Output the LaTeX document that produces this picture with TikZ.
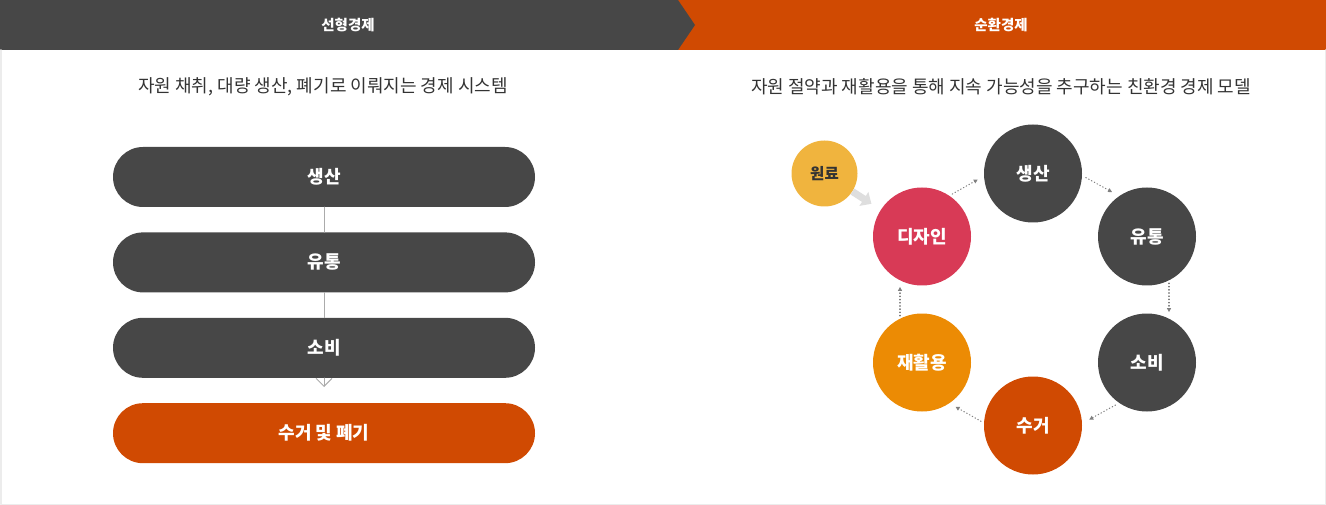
\documentclass[tikz,border=0pt]{standalone}
\usepackage{fontspec}
\setmainfont{Noto Sans CJK KR}
\usetikzlibrary{arrows.meta,calc,positioning}
\definecolor{ecodark}{RGB}{71,71,71}
\definecolor{ecoorange}{RGB}{208,74,2}
\definecolor{ecored}{RGB}{216,58,86}
\definecolor{ecoamber}{RGB}{236,139,4}
\definecolor{ecogold}{RGB}{240,180,62}
\definecolor{ecotext}{RGB}{51,51,51}
\definecolor{ecoframe}{RGB}{236,236,236}

\begin{document}
\begin{tikzpicture}[x=1pt,y=-1pt,line cap=round,line join=round,
  headtext/.style={text=white,font=\bfseries\fontsize{14.5}{16}\selectfont,inner sep=0},
  subtext/.style={text=ecotext,font=\fontsize{18}{20}\selectfont,inner sep=0},
  pill/.style={fill=ecodark,rounded corners=30pt,minimum width=422pt,minimum height=60pt,
   text=white,font=\bfseries\fontsize{18}{20}\selectfont},
  stage/.style={circle,minimum size=98pt,inner sep=0,text=white,
   font=\bfseries\fontsize{18}{20}\selectfont},
  conn/.style={draw=black!33,line width=1pt},
  flow/.style={draw=black!50,line width=1.1pt,dash pattern=on 0.6pt off 2.6pt,
   -{Triangle[length=4pt,width=4pt,fill=black!50]}},
  feed/.style={draw=black!13,line width=7pt,line cap=butt,
   -{Triangle[length=9pt,width=16pt]}}]
 \useasboundingbox (0,0) rectangle (1326,505);
 \fill[ecoorange] (678,0)--(1326,0)--(1326,50)--(678,50)--cycle;
 \fill[ecodark] (0,0)--(678,0)--(695,25)--(678,50)--(0,50)--cycle;
 \draw[ecoframe,line width=1.5pt] (0.75,50)--(0.75,504.25)--(1325.25,504.25)--(1325.25,50);
 \node[headtext] (linhead) at (348,25) {선형경제};
 \node[headtext] (circhead) at (1001,25) {순환경제};
 \node[subtext] (linsub) at (323,87) {자원 채취, 대량 생산, 폐기로 이뤄지는 경제 시스템};
 \node[subtext] (circsub) at (1001,87) {자원 절약과 재활용을 통해 지속 가능성을 추구하는 친환경 경제 모델};

 \node[pill] (lprod) at (324,177) {생산};
 \node[pill,below=25pt of lprod] (ldist) {유통};
 \node[pill,below=25pt of ldist] (lcons) {소비};
 \node[pill,fill=ecoorange,below=25pt of lcons] (ldisp) {수거 및 폐기};
 \coordinate[below=9pt of lcons.south] (ltip);
 \draw[conn] (lprod) -- (ldist);
 \draw[conn] (ldist) -- (lcons);
 \draw[conn,-{Straight Barb[length=8pt,width=16pt]}] (lcons.south) -- (ltip);

 \node[stage,fill=ecored] (design) at (922,236.5) {디자인};
 \node[stage,fill=ecodark] (prod) at (1033,173.5) {생산};
 \node[stage,fill=ecodark] (dist) at (1147,236.5) {유통};
 \node[stage,fill=ecodark] (cons) at (1147,362.5) {소비};
 \node[stage,fill=ecoorange] (coll) at (1033,425.5) {수거};
 \node[stage,fill=ecoamber] (recy) at (922,362.5) {재활용};
 \node[stage,fill=ecogold,minimum size=66pt,text=ecotext,
  font=\bfseries\fontsize{15.5}{17}\selectfont] (raw) at (824.5,173.5) {원료};
 \draw[feed,shorten >=11pt] (raw) -- (design);
 \foreach \a/\b in {design/prod,prod/dist,dist/cons,cons/coll,coll/recy,recy/design}
  \draw[flow] ($(\a)!0.37!(\b)!22pt!90:(\b)$) -- ($(\a)!0.6!(\b)!22pt!90:(\b)$);
\end{tikzpicture}
\end{document}
